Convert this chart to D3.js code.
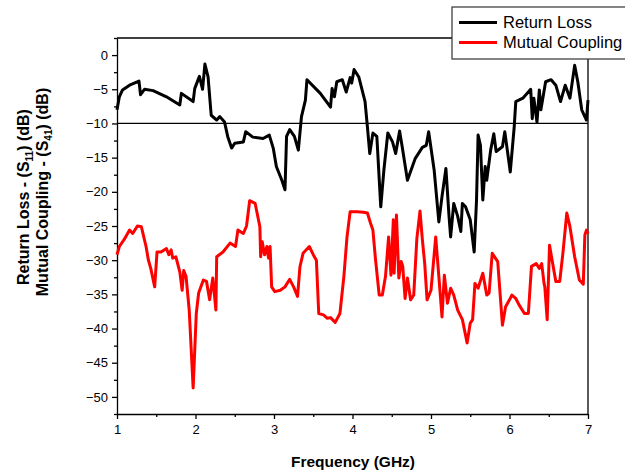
<!DOCTYPE html>
<html>
<head>
<meta charset="utf-8">
<script src="https://cdn.jsdelivr.net/npm/d3@7"></script>
<style>
  body { margin: 0; background: #fff; }
  svg text { font-family: "Liberation Sans", Arial, sans-serif; }
</style>
</head>
<body>
<div id="chart"></div>
<script>
// Return loss (S11)
var rlFreq = [1.0, 1.03, 1.07, 1.16, 1.28, 1.30, 1.35, 1.46, 1.63, 1.80, 1.82, 1.97, 1.99, 2.03, 2.05, 2.09, 2.12, 2.16, 2.20, 2.27, 2.31, 2.37, 2.41, 2.46, 2.50, 2.61, 2.64, 2.73, 2.86, 2.94, 2.99, 3.03, 3.10, 3.14, 3.16, 3.20, 3.26, 3.31, 3.35, 3.40, 3.42, 3.59, 3.72, 3.74, 3.77, 3.80, 3.87, 3.92, 3.97, 3.99, 4.02, 4.08, 4.16, 4.19, 4.22, 4.26, 4.31, 4.36, 4.40, 4.45, 4.51, 4.55, 4.60, 4.63, 4.70, 4.80, 4.89, 4.94, 4.97, 5.04, 5.10, 5.14, 5.19, 5.23, 5.25, 5.29, 5.34, 5.38, 5.40, 5.44, 5.50, 5.55, 5.58, 5.60, 5.63, 5.66, 5.69, 5.71, 5.76, 5.80, 5.83, 5.91, 5.94, 6.01, 6.06, 6.08, 6.17, 6.27, 6.29, 6.31, 6.35, 6.38, 6.40, 6.46, 6.53, 6.59, 6.65, 6.71, 6.77, 6.83, 6.87, 6.92, 6.98, 7.0];
var rlValues = [-8.0, -6.1, -5.1, -4.4, -3.8, -5.8, -5.0, -5.2, -6.1, -7.3, -5.6, -6.8, -4.9, -3.7, -3.1, -5.0, -1.3, -3.2, -8.8, -9.5, -9.0, -9.8, -11.9, -13.6, -12.9, -12.7, -11.2, -12.0, -12.2, -11.7, -13.6, -16.3, -18.3, -19.7, -11.9, -10.9, -11.9, -13.9, -9.0, -6.6, -3.6, -5.6, -7.6, -4.9, -6.1, -3.9, -3.6, -5.4, -3.3, -4.1, -2.1, -3.2, -6.8, -10.5, -14.4, -11.4, -11.9, -22.2, -16.8, -11.4, -12.7, -14.4, -11.1, -13.2, -18.3, -15.1, -13.5, -13.2, -11.2, -16.8, -24.4, -20.7, -16.6, -23.6, -26.6, -21.7, -23.6, -25.8, -21.7, -22.2, -24.1, -28.8, -21.2, -11.7, -13.2, -21.2, -16.3, -18.3, -13.9, -11.5, -14.1, -13.4, -11.2, -17.1, -10.5, -6.8, -6.3, -5.0, -9.3, -6.3, -9.8, -5.1, -8.0, -3.9, -3.6, -4.4, -6.8, -4.4, -6.3, -1.5, -3.9, -8.0, -9.5, -6.6];

// Mutual coupling (S41)
var mcFreq = [1.0, 1.03, 1.09, 1.16, 1.20, 1.26, 1.31, 1.37, 1.40, 1.43, 1.48, 1.51, 1.56, 1.63, 1.66, 1.69, 1.71, 1.75, 1.80, 1.83, 1.85, 1.88, 1.92, 1.97, 2.01, 2.04, 2.10, 2.14, 2.18, 2.22, 2.26, 2.27, 2.35, 2.44, 2.51, 2.54, 2.61, 2.65, 2.69, 2.76, 2.82, 2.83, 2.85, 2.88, 2.91, 2.93, 2.95, 2.97, 3.01, 3.08, 3.14, 3.20, 3.25, 3.30, 3.33, 3.37, 3.45, 3.50, 3.54, 3.57, 3.63, 3.68, 3.72, 3.78, 3.84, 3.89, 3.93, 3.97, 4.01, 4.06, 4.14, 4.19, 4.23, 4.26, 4.29, 4.34, 4.38, 4.42, 4.46, 4.49, 4.52, 4.53, 4.56, 4.59, 4.62, 4.64, 4.67, 4.70, 4.74, 4.78, 4.82, 4.86, 4.89, 4.92, 4.95, 5.00, 5.06, 5.10, 5.14, 5.17, 5.21, 5.25, 5.29, 5.34, 5.40, 5.46, 5.50, 5.53, 5.56, 5.60, 5.66, 5.71, 5.74, 5.78, 5.85, 5.91, 5.95, 6.00, 6.03, 6.08, 6.12, 6.19, 6.24, 6.28, 6.34, 6.38, 6.41, 6.44, 6.45, 6.48, 6.51, 6.55, 6.59, 6.64, 6.68, 6.73, 6.77, 6.83, 6.89, 6.94, 6.96, 6.98, 7.0];
var mcValues = [-29.2, -28.0, -27.0, -25.6, -26.1, -25.0, -25.1, -28.0, -30.0, -31.2, -33.9, -28.8, -28.8, -28.3, -29.2, -28.5, -29.7, -29.5, -31.7, -34.4, -31.5, -32.4, -37.3, -48.7, -37.8, -34.8, -32.9, -33.1, -35.8, -32.6, -37.3, -29.5, -28.8, -27.5, -28.0, -25.6, -26.1, -25.0, -21.3, -21.7, -25.1, -29.5, -27.3, -29.2, -28.0, -29.7, -28.0, -33.9, -34.6, -34.4, -33.9, -32.8, -33.9, -35.3, -31.0, -29.0, -28.0, -29.2, -30.0, -37.8, -38.0, -38.5, -38.4, -39.1, -37.8, -32.4, -26.6, -22.9, -22.9, -22.9, -23.0, -23.1, -24.6, -25.6, -29.5, -35.1, -35.1, -32.4, -26.6, -32.2, -24.1, -31.9, -23.4, -32.6, -30.2, -30.9, -35.6, -32.6, -35.8, -35.1, -26.8, -22.8, -27.0, -30.5, -35.8, -34.4, -26.6, -32.4, -38.3, -32.2, -36.3, -34.1, -35.1, -37.3, -38.7, -42.1, -39.2, -38.7, -33.4, -34.1, -31.9, -35.1, -34.8, -29.0, -30.2, -39.5, -36.8, -35.8, -35.1, -35.6, -36.5, -37.8, -37.8, -30.9, -30.5, -31.2, -30.5, -33.4, -33.9, -38.7, -27.8, -30.5, -33.1, -33.1, -29.0, -23.1, -25.1, -29.5, -32.9, -33.5, -26.3, -25.6, -26.1];

var xTicks = [1, 2, 3, 4, 5, 6, 7];
var yTicks = [0, -5, -10, -15, -20, -25, -30, -35, -40, -45, -50];
var seriesNames = ["Return Loss", "Mutual Coupling"];
var seriesColors = ["#000000", "#ff0000"];

var svgWidth = 625;
var svgHeight = 474;

var margin = { top: 38, right: 37, bottom: 60, left: 117 };
var width = svgWidth - margin.left - margin.right;
var height = svgHeight - margin.top - margin.bottom;

var svg = d3.select("#chart")
  .append("svg")
  .attr("width", svgWidth)
  .attr("height", svgHeight);

var chartGroup = svg.append("g")
  .attr("transform", `translate(${margin.left}, ${margin.top})`);

var xScale = d3.scaleLinear().domain([1, 7]).range([0, width]);
var yScale = d3.scaleLinear().domain([-52.5, 2.5]).range([height, 0]);

// minor ticks first, then majors with labels
chartGroup.append("g")
  .attr("transform", `translate(0, ${height})`)
  .call(d3.axisBottom(xScale).tickValues(d3.range(1.5, 7, 1)).tickSize(3).tickFormat(""))
  .call(g => g.select(".domain").remove())
  .selectAll("line").attr("stroke-width", 1.3);

chartGroup.append("g")
  .call(d3.axisLeft(yScale).tickValues(d3.range(-52.5, 2.6, 5)).tickSize(3).tickFormat(""))
  .call(g => g.select(".domain").remove())
  .selectAll("line").attr("stroke-width", 1.3);

var xAxis = chartGroup.append("g")
  .attr("transform", `translate(0, ${height})`)
  .call(d3.axisBottom(xScale).tickValues(xTicks).tickFormat(d3.format("d"))
    .tickSize(5).tickPadding(6).tickSizeOuter(0));

var yAxis = chartGroup.append("g")
  .call(d3.axisLeft(yScale).tickValues(yTicks).tickFormat(d3.format("d"))
    .tickSize(5).tickPadding(4).tickSizeOuter(0));

[xAxis, yAxis].forEach(function(ax) {
  ax.selectAll("text")
    .attr("font-size", "13px")
    .attr("font-family", "Liberation Sans, Arial, sans-serif")
    .attr("fill", "#000");
  ax.selectAll("line").attr("stroke", "#000").attr("stroke-width", 1.3);
  ax.select(".domain").attr("stroke", "#000").attr("stroke-width", 1.3);
});

// frame top and right
chartGroup.append("line")
  .attr("x1", 0).attr("x2", width).attr("y1", 0).attr("y2", 0)
  .attr("stroke", "#000").attr("stroke-width", 1.3);
chartGroup.append("line")
  .attr("x1", width).attr("x2", width).attr("y1", 0).attr("y2", height)
  .attr("stroke", "#000").attr("stroke-width", 1.3);

// -10 dB reference line
chartGroup.append("line")
  .attr("x1", 0).attr("x2", width)
  .attr("y1", yScale(-10)).attr("y2", yScale(-10))
  .attr("stroke", "#000").attr("stroke-width", 1.2);

var line = d3.line()
  .x(d => xScale(d[0]))
  .y(d => yScale(d[1]));

chartGroup.append("path")
  .datum(mcFreq.map((f, i) => [f, mcValues[i]]))
  .attr("d", line)
  .attr("fill", "none")
  .attr("stroke", seriesColors[1])
  .attr("stroke-width", 3)
  .attr("stroke-linejoin", "round");

chartGroup.append("path")
  .datum(rlFreq.map((f, i) => [f, rlValues[i]]))
  .attr("d", line)
  .attr("fill", "none")
  .attr("stroke", seriesColors[0])
  .attr("stroke-width", 3)
  .attr("stroke-linejoin", "round");

// axis labels
svg.append("text")
  .attr("x", 353)
  .attr("y", 467)
  .attr("text-anchor", "middle")
  .attr("font-size", "15.5px")
  .attr("font-weight", "bold")
  .text("Frequency (GHz)");

var yLabel = svg.append("text")
  .attr("transform", "rotate(-90)")
  .attr("text-anchor", "middle")
  .attr("font-size", "16px")
  .attr("font-weight", "bold");

var l1 = yLabel.append("tspan").attr("x", -197).attr("y", 29);
l1.append("tspan").text("Return Loss - (S");
l1.append("tspan").attr("font-size", "10px").attr("dy", 4).text("11");
l1.append("tspan").attr("dy", -4).text(") (dB)");

var l2 = yLabel.append("tspan").attr("x", -192).attr("y", 48);
l2.append("tspan").text("Mutual Coupling - (S");
l2.append("tspan").attr("font-size", "10px").attr("dy", 4).text("41");
l2.append("tspan").attr("dy", -4).text(") (dB)");

// legend
var legend = svg.append("g");
legend.append("rect")
  .attr("x", 452).attr("y", 7)
  .attr("width", 190).attr("height", 52)
  .attr("fill", "#fff")
  .attr("stroke", "#333")
  .attr("stroke-width", 1.2);

seriesNames.forEach(function(name, i) {
  legend.append("line")
    .attr("x1", 459).attr("x2", 497)
    .attr("y1", 22.5 + i * 20).attr("y2", 22.5 + i * 20)
    .attr("stroke", seriesColors[i])
    .attr("stroke-width", 3);
  legend.append("text")
    .attr("x", 503)
    .attr("y", 28 + i * 20)
    .attr("font-size", "16.5px")
    .text(name);
});
</script>
</body>
</html>
